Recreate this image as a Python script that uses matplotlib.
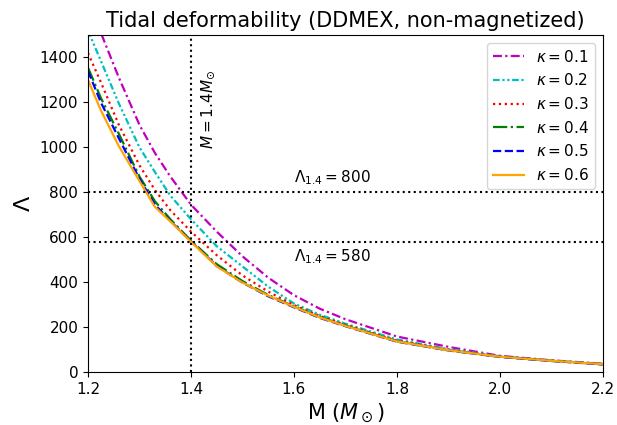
import numpy as np
import matplotlib
matplotlib.use('Agg')
import matplotlib.pyplot as plt

# masses (in solar masses)
M = [1.20, 1.225, 1.26, 1.30, 1.33, 1.36, 1.40, 1.45, 1.50, 1.55, 1.60, 1.65, 1.70, 1.80, 1.90, 2.00, 2.10, 2.20]

# tidal deformability for each kappa
lam_k01 = [1650, 1510, 1310, 1100, 975, 870, 745, 625, 515, 420, 342, 282, 235, 158, 112, 72, 52, 37]
lam_k02 = [1520, 1385, 1195, 1000, 890, 785, 680, 560, 470, 380, 305, 255, 215, 145, 102, 70, 51, 36]
lam_k03 = [1420, 1290, 1100, 920, 810, 720, 625, 520, 430, 358, 298, 250, 210, 140, 99, 69, 50, 35]
lam_k04 = [1355, 1220, 1060, 870, 760, 680, 585, 480, 405, 343, 292, 245, 207, 137, 97, 68, 50, 34]
lam_k05 = [1340, 1200, 1040, 860, 745, 672, 582, 472, 398, 337, 288, 241, 204, 135, 96, 67, 49, 34]
lam_k06 = [1300, 1165, 1005, 850, 735, 670, 580, 470, 398, 340, 290, 243, 205, 136, 97, 68, 50, 35]

kappas = ['0.1', '0.2', '0.3', '0.4', '0.5', '0.6']

fig = plt.figure(figsize=(6.17, 4.25), dpi=100)
ax = fig.add_axes([0.1426, 0.1247, 0.8344, 0.7929])

ax.plot(M, lam_k01, color='m', linestyle=(0, (4, 1.5, 1, 1.5)), linewidth=1.6, label=r'$\kappa = $' + kappas[0])
ax.plot(M, lam_k02, color='c', linestyle=(0, (3, 1.2, 1, 1.2, 1, 1.2)), linewidth=1.6, label=r'$\kappa = $' + kappas[1])
ax.plot(M, lam_k03, color='r', linestyle=':', linewidth=1.6, label=r'$\kappa = $' + kappas[2])
ax.plot(M, lam_k04, color='g', linestyle='-.', linewidth=1.6, label=r'$\kappa = $' + kappas[3])
ax.plot(M, lam_k05, color='b', linestyle='--', linewidth=1.6, label=r'$\kappa = $' + kappas[4])
ax.plot(M, lam_k06, color='orange', linestyle='-', linewidth=1.6, label=r'$\kappa = $' + kappas[5])

# reference lines
ax.axvline(1.4, color='k', linestyle=':', linewidth=1.5)
ax.axhline(800, color='k', linestyle=':', linewidth=1.5)
ax.axhline(580, color='k', linestyle=':', linewidth=1.5)

ax.text(1.415, 1170, r'$M = 1.4M_{\odot}$', rotation=90, fontsize=11, va='center', ha='left')
ax.text(1.6, 825, r'$\Lambda_{1.4} = 800$', fontsize=11, va='bottom', ha='left')
ax.text(1.6, 555, r'$\Lambda_{1.4} = 580$', fontsize=11, va='top', ha='left')

ax.set_xlim(1.2, 2.2)
ax.set_ylim(0, 1500)
ax.set_xticks([1.2, 1.4, 1.6, 1.8, 2.0, 2.2])
ax.tick_params(labelsize=11)
ax.set_xlabel(r'M ($M_\odot$)', fontsize=15)
ax.set_ylabel(r'$\Lambda$', fontsize=16)
ax.set_title('Tidal deformability (DDMEX, non-magnetized)', fontsize=15)
ax.legend(loc='upper right', fontsize=11)

fig.savefig('out.png', dpi=100)
